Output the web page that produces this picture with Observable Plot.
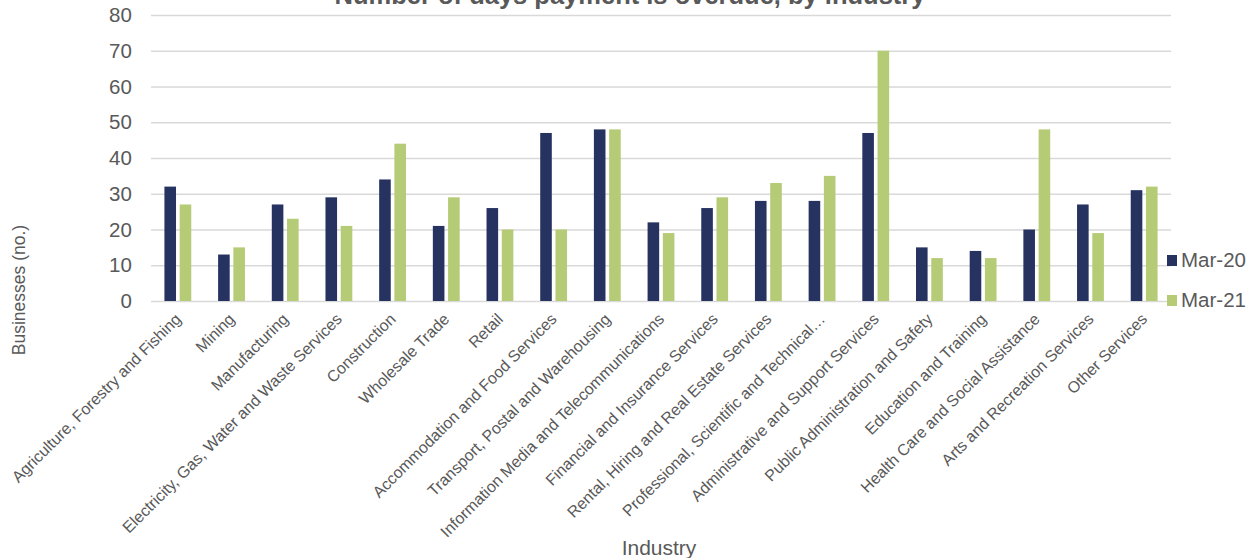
<!DOCTYPE html>
<html><head><meta charset="utf-8">
<script src="https://cdn.jsdelivr.net/npm/d3@7"></script>
<script src="https://cdn.jsdelivr.net/npm/@observablehq/plot@0.6"></script>
<style>
body{margin:0;background:#fff;font-family:"Liberation Sans",Arial,sans-serif;}
#wrap{position:relative;width:1248px;height:558px;overflow:hidden;}
#chart{position:absolute;left:0;top:0;width:1248px;height:558px;}
#chart svg{position:absolute;left:0;top:0;max-width:none!important;}
.t{position:absolute;color:#595959;white-space:nowrap;line-height:1;}
#title{left:0;width:1260px;text-align:center;top:-17px;font-size:25.5px;font-weight:bold;}
#ytitle{left:20px;top:290px;font-size:17.5px;transform:translate(-50%,-50%) rotate(-90deg);}
#xtitle{left:659px;top:547px;font-size:21px;transform:translate(-50%,-50%);}
.sw{position:absolute;left:1167px;width:10px;height:11px;}
.lt{position:absolute;left:1181px;font-size:20.5px;color:#595959;line-height:1;transform:translateY(-50%);white-space:nowrap;}
</style></head><body>
<div id="wrap">
<div id="chart"></div>
<div class="t" id="title">Number of days payment is overdue, by industry</div>
<div class="t" id="ytitle">Businesses (no.)</div>
<div class="t" id="xtitle">Industry</div>
<div id="legend"></div>
</div>
<script>
const industries = [
  "Agriculture, Forestry and Fishing","Mining","Manufacturing","Electricity, Gas, Water and Waste Services",
  "Construction","Wholesale Trade","Retail","Accommodation and Food Services","Transport, Postal and Warehousing",
  "Information Media and Telecommunications","Financial and Insurance Services","Rental, Hiring and Real Estate Services",
  "Professional, Scientific and Technical…","Administrative and Support Services","Public Administration and Safety",
  "Education and Training","Health Care and Social Assistance","Arts and Recreation Services","Other Services"
];
const mar20 = [32,13,27,29,34,21,26,47,48,22,26,28,28,47,15,14,20,27,31];
const mar21 = [27,15,23,21,44,29,20,20,48,19,29,33,35,70,12,12,48,19,32];
const series = ["Mar-20","Mar-21"];
const colors = ["#263361","#b5cb76"];
const yTicks = [0,10,20,30,40,50,60,70,80];

const data = industries.flatMap((ind,i)=>[
  {industry:ind, series:series[0], value:mar20[i]},
  {industry:ind, series:series[1], value:mar21[i]}
]);

const W=1248,H=558, mT=15, mB=257, mL=151, mR=77;
const common = {width:W,height:H,marginTop:mT,marginBottom:mB,marginLeft:mL,marginRight:mR,
  style:{fontFamily:'"Liberation Sans",Arial,sans-serif',color:"#595959",background:"transparent",overflow:"visible"}};

const grid = Plot.plot({...common,
  x:{axis:null}, y:{domain:[0,80],axis:null},
  marks:[Plot.ruleY(yTicks,{stroke:"#d9d9d9",strokeWidth:1.3})]
});
const chart = Plot.plot({...common,
  fx:{domain:industries,paddingInner:0.5,paddingOuter:0.25,round:false,label:null},
  x:{domain:series,axis:null,paddingInner:0.24,paddingOuter:0,round:false},
  y:{domain:[0,80],label:null},
  color:{domain:series,range:colors},
  marks:[
    Plot.barY(data,{fx:"industry",x:"series",y:"value",fill:"series"}),
    Plot.axisY({ticks:yTicks,tickSize:0,dx:-24,fontSize:20.5,label:null}),
    Plot.axisFx({anchor:"bottom",tickRotate:-45,tickSize:0,tickPadding:15,fontSize:16,label:null})
  ]
});
[grid,chart].forEach(s=>document.getElementById("chart").appendChild(s));

const leg=document.getElementById("legend");
const rows=[{sq:255,tx:260},{sq:295,tx:300}];
series.forEach((s,i)=>{
  const q=document.createElement("div");q.className="sw";q.style.top=rows[i].sq+"px";q.style.background=colors[i];
  const t=document.createElement("div");t.className="lt";t.style.top=rows[i].tx+"px";t.textContent=s;
  leg.appendChild(q);leg.appendChild(t);
});
</script>
</body></html>
